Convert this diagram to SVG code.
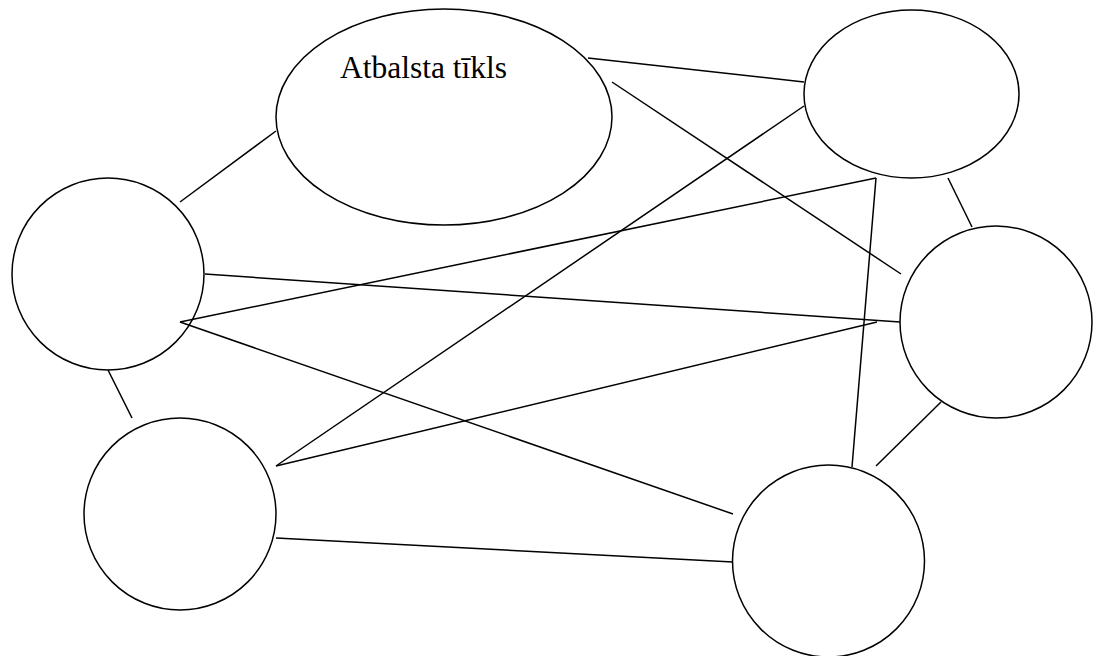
<svg xmlns="http://www.w3.org/2000/svg" width="1101" height="656" viewBox="0 0 1101 656">
<style>
.n{fill:#fff;stroke:#000;stroke-width:1.5}
.c line{stroke:#000;stroke-width:1.5}
.t{font-family:"Liberation Serif","Times New Roman",serif;font-size:31.5px;fill:#000}
</style>
<rect width="1101" height="656" fill="#fff"/>
<g id="support"><ellipse class="n" cx="444" cy="117" rx="168" ry="108"/><text class="t" x="340" y="78">Atbalsta tīkls</text></g>
<g id="topright"><ellipse class="n" cx="911.5" cy="94" rx="107.5" ry="84"/></g>
<g id="left"><ellipse class="n" cx="108" cy="274" rx="96" ry="96"/></g>
<g id="right"><ellipse class="n" cx="996" cy="322" rx="96" ry="96"/></g>
<g id="bottomleft"><ellipse class="n" cx="180" cy="514" rx="96" ry="96"/></g>
<g id="bottomright"><ellipse class="n" cx="828.5" cy="561" rx="96" ry="96"/></g>
<g class="c" id="connectors">
<line x1="180" y1="202" x2="276" y2="131"/>
<line x1="588" y1="58" x2="804" y2="82"/>
<line x1="612" y1="82" x2="901" y2="274"/>
<line x1="180" y1="322" x2="876" y2="178"/>
<line x1="205" y1="274" x2="900" y2="322"/>
<line x1="180" y1="322" x2="733" y2="514"/>
<line x1="108" y1="370" x2="132" y2="418"/>
<line x1="276" y1="466" x2="804" y2="106"/>
<line x1="276" y1="466" x2="877" y2="322"/>
<line x1="876" y1="178" x2="852" y2="467"/>
<line x1="948" y1="178" x2="972" y2="227"/>
<line x1="941" y1="402" x2="876" y2="466"/>
<line x1="276" y1="538" x2="733" y2="562"/>
</g>
</svg>
